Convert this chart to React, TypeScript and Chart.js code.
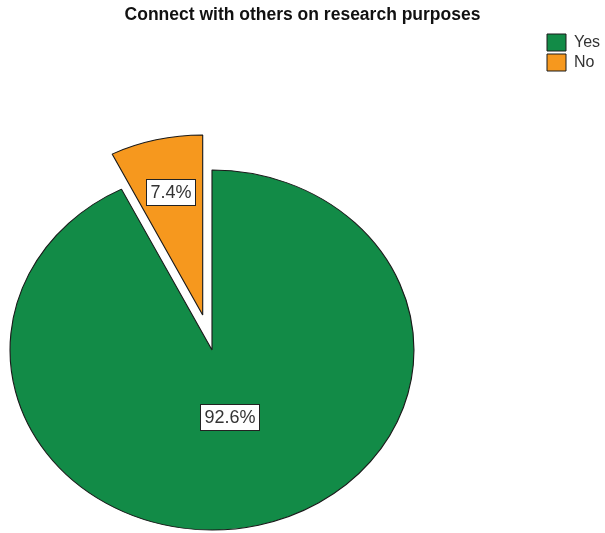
import React, { useEffect, useRef } from "react";
import { Chart, registerables } from "chart.js";

Chart.register(...registerables);

const TITLE = "Connect with others on research purposes";
const CATEGORIES = ["Yes", "No"];
const PERCENTS = [92.6, 7.4];
const COLORS = ["#128B47", "#F6981E"];
const EXPLODE = [0, 36];

const FONT = "Arial, 'Liberation Sans', sans-serif";
const X_STRETCH = 1.122;

function stretch(ctx: CanvasRenderingContext2D, cx: number) {
  ctx.translate(cx, 0);
  ctx.scale(X_STRETCH, 1);
  ctx.translate(-cx, 0);
}

const ellipsePlugin = {
  id: "ellipse",
  beforeDatasetsDraw(chart: any) {
    const { ctx, chartArea } = chart;
    const cx = (chartArea.left + chartArea.right) / 2;
    const meta = chart.getDatasetMeta(0);
    ctx.save();
    stretch(ctx, cx);
    meta.data.forEach((arc: any, i: number) => {
      const p = arc.getProps(["startAngle", "endAngle"], true);
      const mid = (p.startAngle + p.endAngle) / 2;
      const s = EXPLODE[i] || 0;
      ctx.save();
      ctx.translate(Math.cos(mid) * s, Math.sin(mid) * s);
      arc.draw(ctx);
      ctx.restore();
    });
    ctx.restore();
    return false;
  },
  afterDraw(chart: any) {
    const { ctx, chartArea } = chart;
    const cx = (chartArea.left + chartArea.right) / 2;
    const meta = chart.getDatasetMeta(0);
    const values = chart.data.datasets[0].data as number[];
    const total = values.reduce((a, b) => a + b, 0);
    ctx.save();
    ctx.font = `18px ${FONT}`;
    ctx.textAlign = "center";
    ctx.textBaseline = "middle";
    meta.data.forEach((arc: any, i: number) => {
      const p = arc.getProps(["x", "y", "startAngle", "endAngle", "outerRadius"], true);
      const shift = EXPLODE[i] || 0;
      const mid = (p.startAngle + p.endAngle) / 2;
      const share = values[i] / total;
      const f = share > 0.5 ? 0.38 : 0.7;
      const ux = p.x + Math.cos(mid) * (p.outerRadius * f + shift);
      const uy = p.y + Math.sin(mid) * (p.outerRadius * f + shift);
      const x = cx + (ux - cx) * X_STRETCH;
      const y = uy;
      const text = `${values[i].toFixed(1)}%`;
      const w = Math.round(ctx.measureText(text).width + 8);
      const h = 26;
      const bx = Math.round(x - w / 2) + 0.5;
      const by = Math.round(y - h / 2) + 0.5;
      ctx.fillStyle = "#ffffff";
      ctx.fillRect(bx, by, w, h);
      ctx.strokeStyle = "#222222";
      ctx.lineWidth = 1;
      ctx.strokeRect(bx, by, w, h);
      ctx.fillStyle = "#333333";
      ctx.fillText(text, bx + w / 2, by + h / 2 + 1);
    });
    ctx.restore();
  },
};

export default function App() {
  const ref = useRef<HTMLCanvasElement>(null);
  useEffect(() => {
    if (!ref.current) return;
    const chart = new Chart(ref.current, {
      type: "pie",
      data: {
        labels: CATEGORIES,
        datasets: [
          {
            data: PERCENTS,
            backgroundColor: COLORS,
            borderColor: "#1a1a1a",
            borderWidth: 1,
            radius: 180,
          } as any,
        ],
      },
      options: {
        responsive: false,
        animation: false,
        events: [],
        layout: { padding: 0 },
        plugins: {
          title: {
            display: true,
            text: TITLE,
            color: "#111111",
            font: { family: FONT, size: 17.5, weight: "bold", lineHeight: 1.2 },
            padding: { top: 5, bottom: 141 },
          },
          subtitle: {
            display: true,
            text: "",
            position: "right",
            weight: 500,
            font: { size: 10 },
            padding: { top: 0, bottom: 108 },
          },
          legend: {
            display: true,
            position: "right",
            align: "start",
            fullSize: true,
            weight: 1000,
            maxWidth: 61,
            title: { display: true, text: "", font: { size: 10 }, padding: { top: 19, bottom: 0 } },
            labels: {
              boxWidth: 19,
              boxHeight: 17,
              padding: 3,
              color: "#333333",
              font: { family: FONT, size: 16 },
            },
          },
          tooltip: { enabled: false },
        },
      } as any,
      plugins: [ellipsePlugin],
    });
    return () => chart.destroy();
  }, []);
  return (
    <div style={{ position: "absolute", left: 0, top: 0, width: 605, height: 533, background: "#fff" }}>
      <canvas ref={ref} width={605} height={533} style={{ display: "block" }} />
    </div>
  );
}
